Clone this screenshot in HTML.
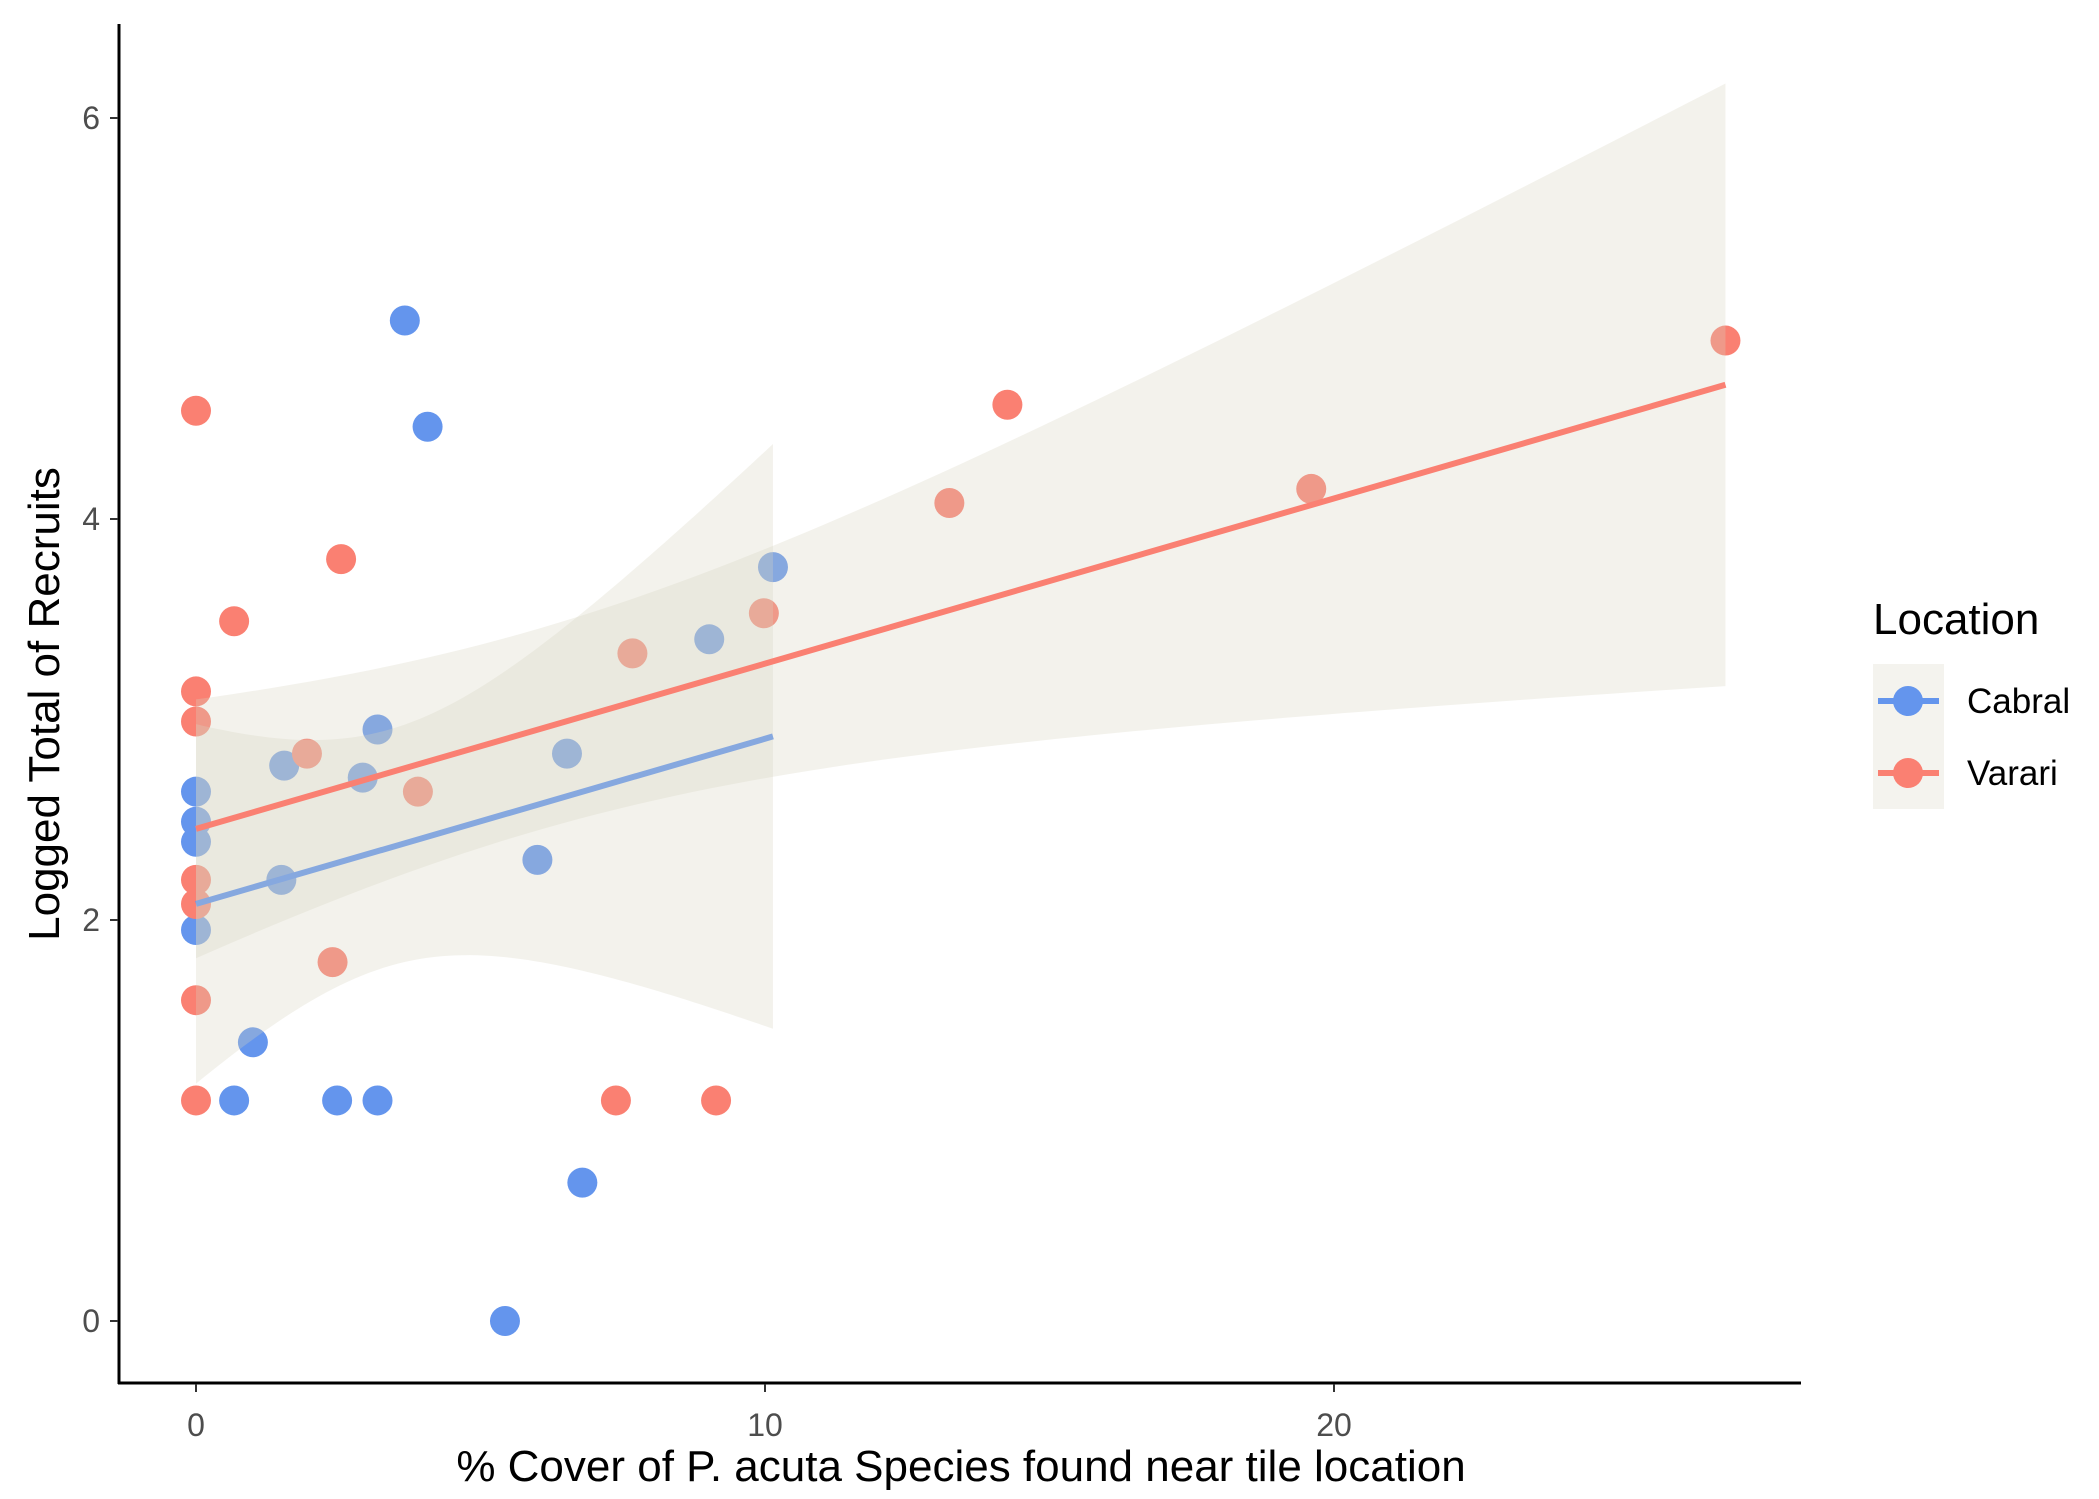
<!DOCTYPE html>
<html><head><meta charset="utf-8"><style>
html,body{margin:0;padding:0;background:#fff;}
svg{display:block;font-family:"Liberation Sans",Arial,sans-serif;}
</style></head><body>
<svg id="chart" width="2099" height="1499" viewBox="0 0 2099 1499"></svg>
<script>
const cabralX = [0,0,0,0,0.67,1.0,1.5,1.55,2.48,2.93,3.19,3.19,3.67,4.07,5.43,6.0,6.52,6.79,9.02,10.14];
const cabralY = [2.64,2.49,2.39,1.95,1.10,1.39,2.20,2.77,1.10,2.71,2.95,1.10,4.99,4.46,0,2.30,2.83,0.69,3.40,3.76];
const varariX = [0,0,0,0,0,0,0,0.67,1.95,2.4,2.55,3.9,7.38,7.67,9.14,9.98,13.24,14.26,19.6,26.88];
const varariY = [4.54,3.14,2.99,2.20,2.08,1.60,1.10,3.49,2.83,1.79,3.80,2.64,1.10,3.33,1.10,3.53,4.08,4.57,4.15,4.89];
const xTicks = [0,10,20];
const yTicks = [0,2,4,6];

const NS="http://www.w3.org/2000/svg";
const svg=document.getElementById('chart');
function xs(v){return 196+v*56.9;}
function ys(v){return 1321-v*200.5;}
function mk(tag,attrs,parent){const e=document.createElementNS(NS,tag);for(const k in attrs)e.setAttribute(k,attrs[k]);(parent||svg).appendChild(e);return e;}

function fit(X,Y){
  const n=X.length;let mx=0,my=0;for(let i=0;i<n;i++){mx+=X[i];my+=Y[i];}mx/=n;my/=n;
  let sxx=0,sxy=0;for(let i=0;i<n;i++){sxx+=(X[i]-mx)**2;sxy+=(X[i]-mx)*(Y[i]-my);}
  const b=sxy/sxx,a=my-b*mx;let sse=0;for(let i=0;i<n;i++)sse+=(Y[i]-a-b*X[i])**2;
  const df=n-2,s=Math.sqrt(sse/df),z=1.959964;
  const t=z+(z**3+z)/(4*df)+(5*z**5+16*z**3+3*z)/(96*df*df);
  return {a,b,n,mx,sxx,s,t,min:Math.min(...X),max:Math.max(...X)};
}
function drawGroup(X,Y,color,name){
  const g=mk('g',{});
  
  
  for(let i=0;i<X.length;i++){
    const c=mk('circle',{cx:xs(X[i]),cy:ys(Y[i]),r:15,fill:color},g);
    
    
  }
}
function drawFit(X,Y,color,name){
  const f=fit(X,Y);const up=[],lo=[];const N=80;
  for(let k=0;k<=N;k++){const x=f.min+(f.max-f.min)*k/N;const yh=f.a+f.b*x;
    const se=f.s*Math.sqrt(1/f.n+(x-f.mx)**2/f.sxx);
    up.push(xs(x)+','+ys(yh+f.t*se));lo.unshift(xs(x)+','+ys(yh-f.t*se));}
  const r=mk('polygon',{points:up.concat(lo).join(' '),fill:'#d8d5c0','fill-opacity':0.3});
  
  
  const l=mk('line',{x1:xs(f.min),y1:ys(f.a+f.b*f.min),x2:xs(f.max),y2:ys(f.a+f.b*f.max),stroke:color,'stroke-width':6});
  
  
}
drawGroup(cabralX,cabralY,'#6495ED','cabral');
drawGroup(varariX,varariY,'#FA8072','varari');
drawFit(cabralX,cabralY,'#6495ED','cabral');
drawFit(varariX,varariY,'#FA8072','varari');

// axes
const ya=mk('line',{x1:119,y1:24,x2:119,y2:1384,stroke:'#000','stroke-width':3});


const xa=mk('line',{x1:118,y1:1383,x2:1801,y2:1383,stroke:'#000','stroke-width':3});


for(const v of xTicks){
  const tk=mk('line',{x1:xs(v),y1:1384,x2:xs(v),y2:1392,stroke:'#333','stroke-width':2});
  
  
  const t=mk('text',{x:xs(v),y:1436,'text-anchor':'middle','font-size':32,fill:'#4d4d4d'});t.textContent=v;
  
  
}
for(const v of yTicks){
  const tk=mk('line',{x1:110,y1:ys(v),x2:118,y2:ys(v),stroke:'#333','stroke-width':2});
  
  
  const t=mk('text',{x:100,y:ys(v)+11,'text-anchor':'end','font-size':32,fill:'#4d4d4d'});t.textContent=v;
  
  
}
const xt=mk('text',{x:961,y:1481,'text-anchor':'middle','font-size':44,fill:'#000'});
xt.textContent='% Cover of P. acuta Species found near tile location';


const yt=mk('text',{x:0,y:0,'text-anchor':'middle','font-size':44,fill:'#000',transform:'translate(59,704) rotate(-90)'});
yt.textContent='Logged Total of Recruits';



// legend
const lg=mk('g',{});


const lt=mk('text',{x:1873,y:634,'font-size':44,fill:'#000'},lg);lt.textContent='Location';


const entries=[['Cabral','#6495ED',701],['Varari','#FA8072',773]];
const bg=mk('rect',{x:1873,y:664,width:71,height:145,fill:'#f4f3ee'},lg);


for(const [n,c,y] of entries){
  const e=mk('g',{},lg);
  
  
  mk('line',{x1:1878,y1:y,x2:1939,y2:y,stroke:c,'stroke-width':6},e);
  mk('circle',{cx:1908,cy:y,r:15,fill:c},e);
  const t=mk('text',{x:1967,y:y+12,'font-size':35,fill:'#000'},e);t.textContent=n;
}
</script>
</body></html>
